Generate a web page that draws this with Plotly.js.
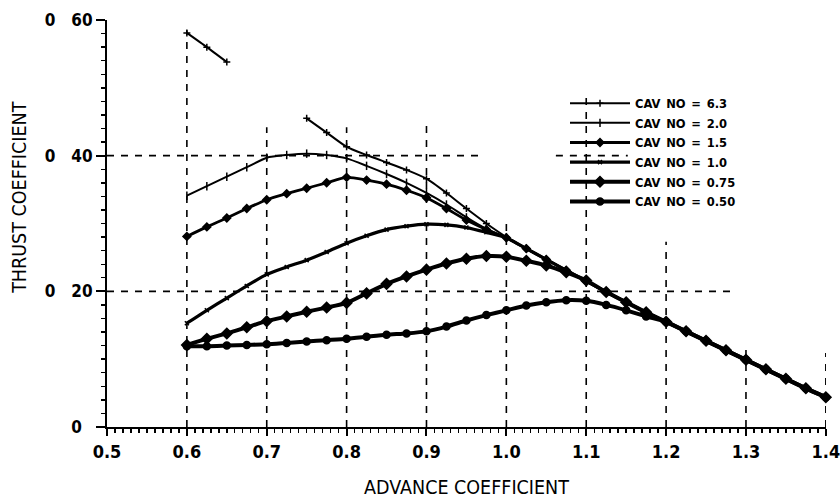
<!DOCTYPE html>
<html>
<head>
<meta charset="utf-8">
<script src="https://cdn.plot.ly/plotly-3.0.1.min.js"></script>
<style>
  html, body { margin: 0; padding: 0; background: #fff; }
  #chart { width: 840px; height: 500px; }
</style>
</head>
<body>
<div id="chart"></div>
<script>
// Advance coefficient J, sampled every 0.025 from 0.6 to 1.4
const advanceJ = [
  0.600, 0.625, 0.650, 0.675, 0.700, 0.725, 0.750, 0.775, 0.800, 0.825,
  0.850, 0.875, 0.900, 0.925, 0.950, 0.975, 1.000, 1.025, 1.050, 1.075,
  1.100, 1.125, 1.150, 1.175, 1.200, 1.225, 1.250, 1.275, 1.300, 1.325,
  1.350, 1.375, 1.400
];

// Thrust coefficient for each cavitation number (null = no trace drawn)
const ktCav63 = [
  0.581, 0.560, 0.538, null, null, null, 0.455, 0.434, 0.413, 0.401,
  0.390, 0.379, 0.366, 0.345, 0.322, 0.300, 0.280, 0.263, 0.247, 0.231,
  0.215, 0.199, 0.184, 0.169, 0.155, 0.141, 0.127, 0.113, 0.099, 0.085,
  0.071, 0.057, 0.044
];
const ktCav20 = [
  0.341, 0.355, 0.369, 0.383, 0.397, 0.401, 0.403, 0.401, 0.396, 0.385,
  0.373, 0.360, 0.345, 0.328, 0.309, 0.292, 0.279, 0.263, 0.247, 0.231,
  0.215, 0.199, 0.184, 0.169, 0.155, 0.141, 0.127, 0.113, 0.099, 0.085,
  0.071, 0.057, 0.044
];
const ktCav15 = [
  0.281, 0.295, 0.308, 0.322, 0.335, 0.344, 0.352, 0.360, 0.368, 0.364,
  0.358, 0.349, 0.338, 0.322, 0.305, 0.291, 0.279, 0.263, 0.247, 0.231,
  0.215, 0.199, 0.184, 0.169, 0.155, 0.141, 0.127, 0.113, 0.099, 0.085,
  0.071, 0.057, 0.044
];
const ktCav10 = [
  0.153, 0.172, 0.190, 0.208, 0.225, 0.236, 0.246, 0.258, 0.271, 0.282,
  0.291, 0.296, 0.299, 0.298, 0.294, 0.287, 0.279, 0.263, 0.247, 0.231,
  0.215, 0.199, 0.184, 0.169, 0.155, 0.141, 0.127, 0.113, 0.099, 0.085,
  0.071, 0.057, 0.044
];
const ktCav075 = [
  0.121, 0.130, 0.138, 0.147, 0.156, 0.163, 0.170, 0.176, 0.183, 0.197,
  0.211, 0.222, 0.232, 0.241, 0.248, 0.252, 0.251, 0.245, 0.238, 0.228,
  0.216, 0.199, 0.184, 0.169, 0.155, 0.141, 0.127, 0.113, 0.099, 0.085,
  0.071, 0.057, 0.044
];
const ktCav050 = [
  0.119, 0.119, 0.120, 0.121, 0.122, 0.124, 0.126, 0.128, 0.130, 0.133,
  0.136, 0.138, 0.141, 0.148, 0.157, 0.165, 0.172, 0.179, 0.184, 0.187,
  0.186, 0.180, 0.172, 0.163, 0.155, 0.141, 0.127, 0.113, 0.099, 0.085,
  0.071, 0.057, 0.044
];

const seriesNames = [
  'CAV\u2002NO\u2002=\u20026.3',
  'CAV\u2002NO\u2002=\u20022.0',
  'CAV\u2002NO\u2002=\u20021.5',
  'CAV\u2002NO\u2002=\u20021.0',
  'CAV\u2002NO\u2002=\u20020.75',
  'CAV\u2002NO\u2002=\u20020.50'
];

// Axis tick labels
const xTickVals = [0.5, 0.6, 0.7, 0.8, 0.9, 1.0, 1.1, 1.2, 1.3, 1.4];
const xTickText = ['0.5', '0.6', '0.7', '0.8', '0.9', '1.0', '1.1', '1.2', '1.3', '1.4'];
const yTickVals = [0, 0.2, 0.4, 0.6];
const yTickText = ['0\u00a0\u00a0', '0\u00a0\u00a0 20', '0\u00a0\u00a0 40', '0\u00a0\u00a0 60'];

const FONT = 'DejaVu Sans Condensed, Liberation Sans Narrow, DejaVu Sans, sans-serif';

const styles = [
  { symbol: 'cross-thin-open', size: 5, lw: 2 },
  { symbol: 'line-ns-open', size: 6, lw: 2 },
  { symbol: 'diamond', size: 6, lw: 2.8 },
  { symbol: 'x-thin-open', size: 4, lw: 3.2 },
  { symbol: 'diamond', size: 8, lw: 4 },
  { symbol: 'circle', size: 7, lw: 4 }
];
const ySeries = [ktCav63, ktCav20, ktCav15, ktCav10, ktCav075, ktCav050];

const traces = ySeries.map((ys, i) => ({
  type: 'scatter',
  mode: 'lines+markers',
  name: seriesNames[i],
  x: advanceJ,
  y: ys,
  connectgaps: false,
  cliponaxis: false,
  line: { color: '#000', width: styles[i].lw, shape: 'spline', smoothing: 0.6 },
  marker: {
    color: '#000',
    symbol: styles[i].symbol,
    size: styles[i].size,
    line: { color: '#000', width: 1.5 }
  }
}));

// Dashed reference lines, partial as on the original plotter sheet
const dash = { color: '#000', width: 1.6, dash: '7px,7px' };
const vGrid = [[0.6, 0.585], [0.7, 0.442], [0.8, 0.442], [0.9, 0.445], [1.0, 0.300],
               [1.1, 0.490], [1.2, 0.273], [1.3, 0.114], [1.4, 0.109]];
const shapes = vGrid.map(([xv, top]) => ({
  type: 'line', xref: 'x', yref: 'y', x0: xv, x1: xv, y0: 0, y1: top,
  layer: 'below', line: dash
}));
shapes.push(
  { type: 'line', xref: 'x', yref: 'y', x0: 0.5, x1: 0.972, y0: 0.4, y1: 0.4, layer: 'below', line: dash },
  { type: 'line', xref: 'x', yref: 'y', x0: 1.062, x1: 1.152, y0: 0.4, y1: 0.4, layer: 'below', line: dash },
  { type: 'line', xref: 'x', yref: 'y', x0: 0.5, x1: 1.287, y0: 0.2, y1: 0.2, layer: 'below', line: dash }
);

const layout = {
  width: 840,
  height: 500,
  margin: { l: 107, r: 14, t: 20, b: 73 },
  paper_bgcolor: '#fff',
  plot_bgcolor: '#fff',
  font: { family: FONT, color: '#000', size: 15 },
  showlegend: true,
  legend: {
    x: 0.637, y: 0.832, xanchor: 'left', yanchor: 'top',
    bgcolor: 'rgba(0,0,0,0)', borderwidth: 0,
    itemwidth: 60, itemsizing: 'trace', tracegroupgap: 0,
    font: { family: FONT, size: 12.8, color: '#000', weight: 700 }
  },
  xaxis: {
    range: [0.5, 1.4002],
    tickmode: 'array', tickvals: xTickVals, ticktext: xTickText,
    ticks: 'outside', ticklen: 7, tickwidth: 2, tickcolor: '#000',
    ticklabeloverflow: 'allow',
    tickfont: { family: FONT, size: 18, weight: 700 },
    showline: true, linecolor: '#000', linewidth: 2,
    showgrid: false, zeroline: false,
    minor: { dtick: 0.01, tick0: 0.5, ticks: 'outside', ticklen: 4, tickwidth: 1.4, tickcolor: '#000', showgrid: false },
    title: { text: 'ADVANCE COEFFICIENT', standoff: 20, font: { family: FONT, size: 19.5 } }
  },
  yaxis: {
    range: [0, 0.6],
    tickmode: 'array', tickvals: yTickVals, ticktext: yTickText,
    ticks: 'outside', ticklen: 9, tickwidth: 2, tickcolor: '#000',
    tickfont: { family: FONT, size: 17, weight: 700 },
    showline: true, linecolor: '#000', linewidth: 2,
    showgrid: false, zeroline: false,
    minor: { dtick: 0.02, tick0: 0, ticks: 'outside', ticklen: 4, tickwidth: 1.4, tickcolor: '#000', showgrid: false }
  },
  annotations: [{
    text: 'THRUST COEFFICIENT',
    xref: 'paper', yref: 'paper', x: -0.121, y: 0.563,
    xanchor: 'center', yanchor: 'middle', textangle: -90, showarrow: false,
    font: { family: FONT, size: 19.5, color: '#000' }
  }],
  shapes: shapes
};

Plotly.newPlot('chart', traces, layout, { staticPlot: true, displayModeBar: false });
</script>
</body>
</html>
